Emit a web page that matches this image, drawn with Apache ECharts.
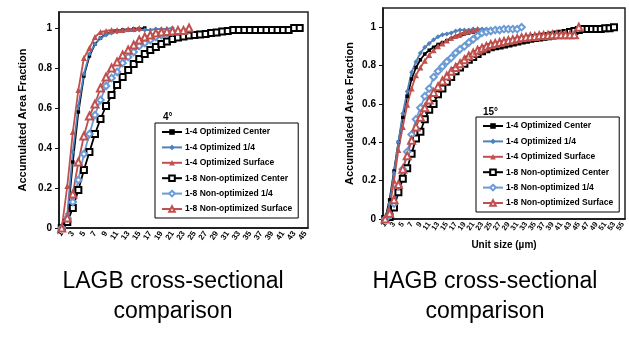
<!DOCTYPE html>
<html><head><meta charset="utf-8">
<script src="https://cdn.jsdelivr.net/npm/echarts@6/dist/echarts.min.js"></script>
<style>html,body{margin:0;padding:0;background:#fff}#c{width:629px;height:338px}</style>
</head><body><div id="c"></div>
<script>
// ---- Categories (unit size, µm) ----
const catsL = ['1','2','3','4','5','6','7','8','9','10','11','12','13','14','15','16','17','18','19','20','21','22','23','24','25','26','27','28','29','30','31','32','33','34','35','36','37','38','39','40','41','42','43','44','45'];
const catsR = ['1','2','3','4','5','6','7','8','9','10','11','12','13','14','15','16','17','18','19','20','21','22','23','24','25','26','27','28','29','30','31','32','33','34','35','36','37','38','39','40','41','42','43','44','45','46','47','48','49','50','51','52','53','54','55'];
const yTicks = [0, 0.2, 0.4, 0.6, 0.8, 1];

// ---- Series names ----
const names = ['1-4 Optimized Center','1-4 Optimized 1/4','1-4 Optimized Surface','1-8 Non-optimized Center','1-8 Non-optimized 1/4','1-8 Non-optimized Surface'];

// ---- LAGB (4°) values ----
const L_optCenter  = [0,0.04,0.33,0.58,0.76,0.86,0.92,0.95,0.97,0.98,0.985,0.99,0.99,0.995,0.995,1.0];
const L_opt14      = [0,0.07,0.38,0.61,0.77,0.87,0.92,0.95,0.965,0.975,0.98,0.985,0.99,0.99,0.99,0.99,0.99,0.995,0.995,0.995,1.0];
const L_optSurface = [0,0.21,0.48,0.69,0.85,0.90,0.955,0.98,0.985,0.99,0.99,0.99,0.995,0.995,1.0];
const L_nonCenter  = [0,0.03,0.10,0.19,0.29,0.38,0.47,0.545,0.61,0.665,0.715,0.755,0.79,0.82,0.845,0.87,0.89,0.905,0.92,0.933,0.945,0.953,0.958,0.962,0.965,0.967,0.97,0.975,0.978,0.982,0.985,0.99,0.99,0.99,0.99,0.99,0.99,0.99,0.99,0.99,0.99,0.99,1.0,1.0];
const L_non14      = [0,0.05,0.13,0.24,0.37,0.47,0.565,0.64,0.71,0.75,0.78,0.825,0.855,0.88,0.91,0.925,0.94,0.955,0.965,0.975,0.98];
const L_nonSurface = [0,0.05,0.17,0.33,0.46,0.56,0.62,0.70,0.755,0.80,0.83,0.865,0.89,0.915,0.94,0.955,0.965,0.975,0.98,0.983,0.985,0.988,0.988,1.0];

// ---- HAGB (15°) values ----
const R_optCenter  = [0,0.1,0.25,0.40,0.53,0.64,0.73,0.79,0.83,0.86,0.88,0.895,0.91,0.92,0.93,0.94,0.95,0.955,0.965,0.97,0.975,0.98];
const R_opt14      = [0,0.08,0.24,0.40,0.55,0.665,0.765,0.82,0.865,0.895,0.915,0.935,0.95,0.96,0.965,0.97,0.98,0.985,0.985,0.985,0.99,0.99,0.99,0.99,0.99];
const R_optSurface = [0,0.06,0.2,0.36,0.48,0.595,0.68,0.75,0.79,0.825,0.855,0.88,0.9,0.915,0.93,0.945,0.955,0.965,0.975,0.98,0.985,0.99];
const R_nonCenter  = [0,0.01,0.06,0.14,0.21,0.265,0.34,0.42,0.455,0.52,0.57,0.60,0.65,0.68,0.715,0.74,0.77,0.79,0.81,0.83,0.845,0.86,0.875,0.885,0.895,0.9,0.905,0.91,0.915,0.92,0.925,0.93,0.935,0.94,0.943,0.946,0.95,0.953,0.957,0.962,0.966,0.97,0.975,0.98,0.985,0.99,0.99,0.99,0.99,0.99,0.995,0.995,1.0];
const R_non14      = [0,0.02,0.08,0.17,0.26,0.35,0.44,0.52,0.58,0.64,0.68,0.74,0.77,0.795,0.82,0.84,0.865,0.885,0.9,0.92,0.937,0.955,0.97,0.975,0.98,0.985,0.985,0.99,0.99,0.99,0.99,1.0];
const R_nonSurface = [0,0.03,0.1,0.18,0.26,0.33,0.41,0.48,0.53,0.58,0.62,0.66,0.69,0.72,0.745,0.77,0.79,0.81,0.83,0.85,0.865,0.88,0.89,0.9,0.91,0.915,0.92,0.925,0.93,0.935,0.94,0.945,0.948,0.95,0.952,0.955,0.957,0.958,0.96,0.96,0.96,0.96,0.96,0.96,1.0];

const FONT = "'Liberation Sans', Arial, sans-serif";
const BLACK = '#000', BLUE = '#4F81BD', BLUE2 = '#6b9bd6', RED = '#C0504D';
const styles = [
  {color: BLACK, symbol: 'rect', size: 3.5},
  {color: BLUE, symbol: 'diamond', size: 5},
  {color: RED, symbol: 'triangle', size: 6},
  {color: BLACK, symbol: 'emptyRect', size: 6},
  {color: BLUE2, symbol: 'emptyDiamond', size: 6.5},
  {color: RED, symbol: 'emptyTriangle', size: 7}
];
function mk(idx, data, gi) {
  const s = styles[idx];
  return {
    name: names[idx], type: 'line', xAxisIndex: gi, yAxisIndex: gi, data: data,
    symbol: s.symbol, symbolSize: s.size, showSymbol: true,
    lineStyle: {color: s.color, width: 1.8},
    itemStyle: {color: s.color, borderWidth: 1.1},
    emphasis: {disabled: true}
  };
}
function xAx(gi, cats) {
  return {
    gridIndex: gi, type: 'category', data: cats, boundaryGap: true,
    axisLine: {lineStyle: {color: '#111', width: 1.5}},
    axisTick: {interval: 0, length: 3, lineStyle: {color: '#111'}},
    axisLabel: {interval: 0, rotate: 55, fontSize: 8, fontWeight: 'bold', color: '#000', fontFamily: FONT, margin: 4, hideOverlap: false,
      formatter: (v, i) => (i % 2 === 0 ? v : '')},
    splitLine: {show: false}
  };
}
function yAx(gi, max, gap) {
  return {
    gridIndex: gi, type: 'value', min: 0, max: max, interval: 0.2,
    axisLine: {show: true, lineStyle: {color: '#111', width: 1.5}},
    axisTick: {show: true, length: 4, lineStyle: {color: '#111'}},
    axisLabel: {showMaxLabel: false, fontSize: 10, fontWeight: 'bold', color: '#000', fontFamily: FONT, margin: 7,
      formatter: v => yTicks.indexOf(Math.round(v * 10) / 10) >= 0 ? String(Math.round(v * 10) / 10) : ''},
    splitLine: {show: false},
    name: 'Accumulated Area Fraction', nameLocation: 'middle', nameGap: gap, nameRotate: 90,
    nameTextStyle: {fontSize: 11, fontWeight: 'bold', color: '#000', fontFamily: FONT}
  };
}
function lg(left, top) {
  return {
    data: names, orient: 'vertical', left: left, top: top,
    itemWidth: 20, itemHeight: 7, itemGap: 5.4,
    borderColor: '#000', borderWidth: 1, padding: [4, 6, 4, 6],
    backgroundColor: '#fff', selectedMode: false,
    textStyle: {fontSize: 8.5, lineHeight: 10, fontWeight: 'bold', color: '#000', fontFamily: FONT, padding: [0, 0, 0, -2]}
  };
}

const chart = echarts.init(document.getElementById('c'), null, {renderer: 'canvas'});
const xR = xAx(1, catsR);
xR.axisLabel.fontSize = 7.5;
xR.name = 'Unit size (µm)';
xR.nameLocation = 'middle';
xR.nameGap = 21;
xR.nameTextStyle = {fontSize: 10, fontWeight: 'bold', color: '#000', fontFamily: FONT};

chart.setOption({
  animation: false,
  backgroundColor: '#fff',
  title: [
    {text: '4°', left: 158, top: 107, textStyle: {fontSize: 10, fontWeight: 'bold', color: '#000', fontFamily: FONT}},
    {text: '15°', left: 478, top: 102, textStyle: {fontSize: 10, fontWeight: 'bold', color: '#000', fontFamily: FONT}},
    {text: 'LAGB cross-sectional\ncomparison', left: 168, top: 262, textAlign: 'center',
     textStyle: {fontSize: 23, fontWeight: 'normal', color: '#000', fontFamily: FONT, lineHeight: 30, align: 'center'}},
    {text: 'HAGB cross-sectional\ncomparison', left: 480, top: 262, textAlign: 'center',
     textStyle: {fontSize: 23, fontWeight: 'normal', color: '#000', fontFamily: FONT, lineHeight: 30, align: 'center'}}
  ],
  legend: [lg(155, 123), lg(476, 117)],
  grid: [
    {left: 59, right: 321, top: 12, bottom: 110, show: true, borderColor: '#222', borderWidth: 1.5, backgroundColor: 'transparent', containLabel: false},
    {left: 383, right: 4, top: 8, bottom: 119, show: true, borderColor: '#222', borderWidth: 1.5, backgroundColor: 'transparent', containLabel: false}
  ],
  xAxis: [xAx(0, catsL), xR],
  yAxis: [yAx(0, 1.08, 31), yAx(1, 1.1, 28)],
  series: [
    mk(0, L_optCenter, 0), mk(1, L_opt14, 0), mk(2, L_optSurface, 0),
    mk(3, L_nonCenter, 0), mk(4, L_non14, 0), mk(5, L_nonSurface, 0),
    mk(0, R_optCenter, 1), mk(1, R_opt14, 1), mk(2, R_optSurface, 1),
    mk(3, R_nonCenter, 1), mk(4, R_non14, 1), mk(5, R_nonSurface, 1)
  ]
});
</script></body></html>
